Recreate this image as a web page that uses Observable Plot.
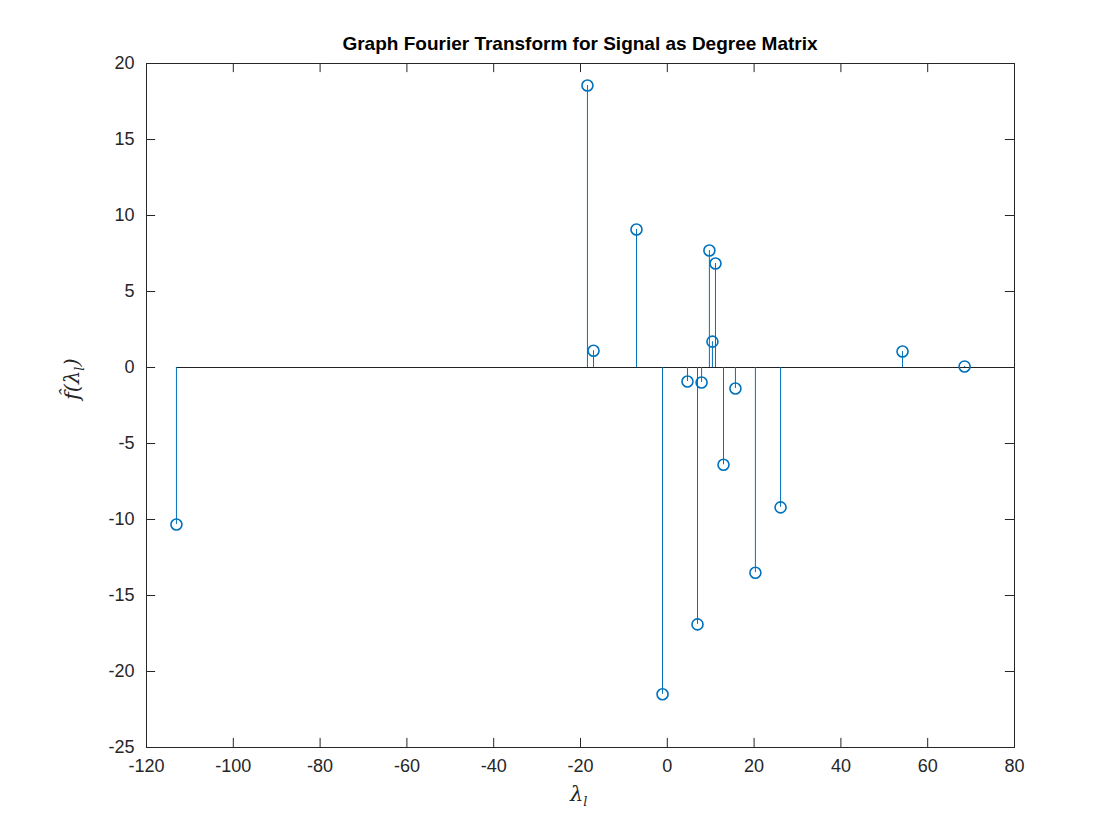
<!DOCTYPE html>
<html>
<head>
<meta charset="utf-8">
<script src="https://cdn.jsdelivr.net/npm/d3@7"></script>
<script src="https://cdn.jsdelivr.net/npm/@observablehq/plot@0.6"></script>
<style>
  body { margin: 0; background: #fff; }
  #wrap { position: relative; width: 1120px; height: 840px; font-family: "Liberation Sans", Arial, sans-serif; }
  #title { position: absolute; top: 33px; left: 146px; width: 868px; text-align: center; font-weight: bold; font-size: 19px; color: #000; }
  .lab { position: absolute; font-family: "DejaVu Serif", "Liberation Serif", serif; font-style: italic; font-size: 21px; color: #262626; }
</style>
</head>
<body>
<div id="wrap">
  <div id="title">Graph Fourier Transform for Signal as Degree Matrix</div>
  <div class="lab" style="left:570px; top:782px;">λ<sub style="font-size:13px">l</sub></div>
  <div class="lab" style="left:60px; top:400px; transform: rotate(-90deg); transform-origin: left top;">f̂(λ<sub style="font-size:13px">l</sub>)</div>
  <div id="chart"></div>
</div>
<script>
// autovalores y coeficientes
const lambdas = [-113.1, -18.4, -17.0, -7.1, -1.1, 4.65, 6.96, 7.9, 9.7, 10.4, 11.1, 12.95, 15.7, 20.3, 26.1, 54.2, 68.5];
const fhat    = [-10.33, 18.55, 1.1, 9.08, -21.5, -0.92, -16.9, -0.99, 7.7, 1.7, 6.84, -6.4, -1.38, -13.5, -9.2, 1.05, 0.07];
const xTicks = d3.range(-120, 81, 20);
const yTicks = d3.range(-25, 21, 5);

const data = lambdas.map((l, i) => ({ l, v: fhat[i] }));
const blue = "#0072BD";

const chart = Plot.plot({
  width: 1120,
  height: 840,
  marginLeft: 146,
  marginRight: 106,
  marginTop: 63,
  marginBottom: 93,
  style: { fontFamily: "Liberation Sans, Arial, sans-serif", fontSize: "18px", color: "#262626", background: "#fff" },
  x: { domain: [-120, 80], ticks: xTicks, label: null },
  y: { domain: [-25, 20], ticks: yTicks, label: null },
  marks: [
    Plot.frame({ stroke: "#262626" }),
    Plot.axisX({ ticks: xTicks, tickSize: 0, tickPadding: 12, tickFormat: d => d }),
    Plot.axisY({ ticks: yTicks, tickSize: 0, tickPadding: 12, tickFormat: d => d }),
    // ticks hacia adentro
    Plot.ruleX(xTicks, { x: d => d, y1: -25, y2: -24.4, stroke: "#262626" }),
    Plot.ruleX(xTicks, { x: d => d, y1: 20, y2: 19.4, stroke: "#262626" }),
    Plot.ruleY(yTicks, { y: d => d, x1: -120, x2: -117.9, stroke: "#262626" }),
    Plot.ruleY(yTicks, { y: d => d, x1: 80, x2: 77.9, stroke: "#262626" }),
    Plot.ruleY([0], { x1: -113.1, x2: 80, stroke: "#222", strokeWidth: 1 }),
    Plot.ruleX(data, { x: "l", y1: 0, y2: "v", stroke: blue, strokeWidth: 1 }),
    Plot.dot(data, { x: "l", y: "v", r: 5.5, stroke: blue, strokeWidth: 1.6, fill: "none" })
  ]
});
d3.select('#chart').append(() => chart);
</script>
</body>
</html>
